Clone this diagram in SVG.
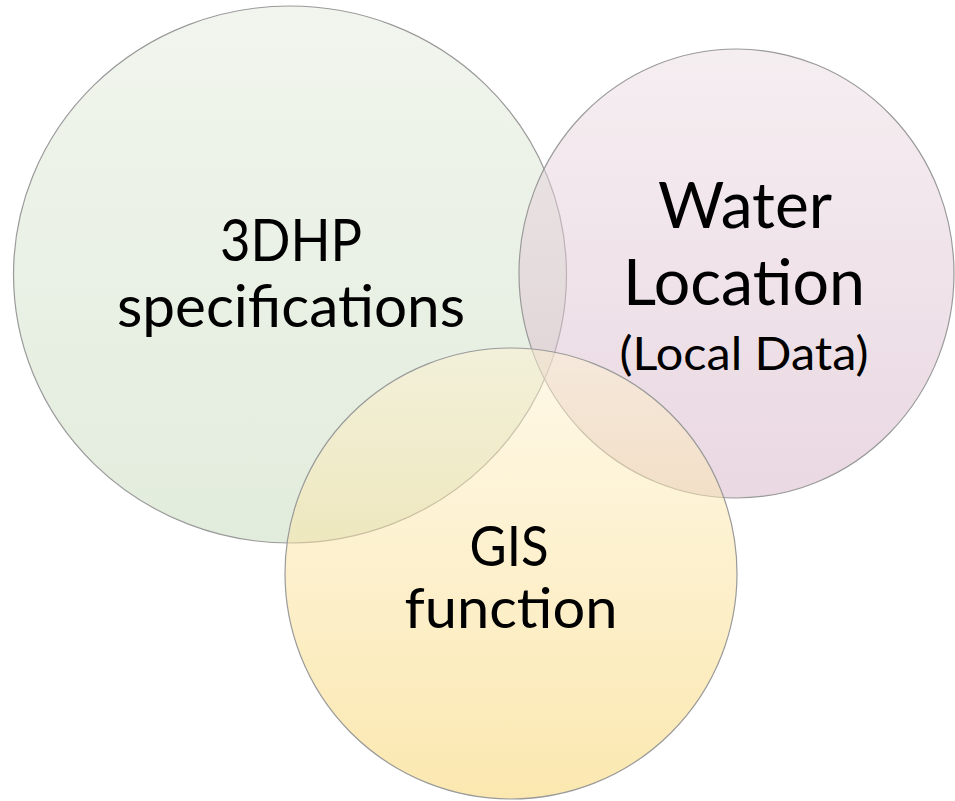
<svg xmlns="http://www.w3.org/2000/svg" width="955" height="801" viewBox="0 0 955 801">
  <style>
    .circ { stroke: #9a9a9a; stroke-width: 1.2; }
    .lbl { font-family: Lato, "Open Sans", "Liberation Sans", sans-serif; fill: #000000; text-anchor: middle; }
  </style>
  <defs>
    <linearGradient id="gGreen" x1="0" y1="0" x2="0" y2="1">
      <stop offset="0" stop-color="#e3ebdd" stop-opacity="0.5"/>
      <stop offset="1" stop-color="#c5d9b9" stop-opacity="0.5"/>
    </linearGradient>
    <linearGradient id="gPink" x1="0" y1="0" x2="0" y2="1">
      <stop offset="0" stop-color="#ebdde3" stop-opacity="0.5"/>
      <stop offset="1" stop-color="#d5b1c5" stop-opacity="0.5"/>
    </linearGradient>
    <linearGradient id="gYellow" x1="0" y1="0" x2="0" y2="1">
      <stop offset="0" stop-color="#fdf1d1" stop-opacity="0.5"/>
      <stop offset="1" stop-color="#f7d161" stop-opacity="0.5"/>
    </linearGradient>
  </defs>
  <rect x="0" y="0" width="955" height="801" fill="#ffffff"/>
  <g id="node-3dhp">
    <ellipse class="circ" cx="290" cy="274.5" rx="276.5" ry="268.5" fill="url(#gGreen)"/>
  </g>
  <g id="node-water">
    <ellipse class="circ" cx="736.5" cy="273.5" rx="217.5" ry="224.5" fill="url(#gPink)"/>
  </g>
  <g id="node-gis">
    <ellipse class="circ" cx="511" cy="573.5" rx="226" ry="225.5" fill="url(#gYellow)"/>
  </g>
  <g id="connectors"></g>
  <g id="labels">
    <text class="lbl" x="291" y="261" font-size="58" textLength="142" lengthAdjust="spacingAndGlyphs">3DHP</text>
    <text class="lbl" x="291" y="327" font-size="58" textLength="348" lengthAdjust="spacingAndGlyphs">specifications</text>
    <text class="lbl" x="745" y="228" font-size="63" textLength="174" lengthAdjust="spacingAndGlyphs">Water</text>
    <text class="lbl" x="744" y="305" font-size="63" textLength="242" lengthAdjust="spacingAndGlyphs">Location</text>
    <text class="lbl" x="744" y="370" font-size="47" textLength="249" lengthAdjust="spacingAndGlyphs">(Local Data)</text>
    <text class="lbl" x="509" y="566" font-size="57" textLength="79" lengthAdjust="spacingAndGlyphs">GIS</text>
    <text class="lbl" x="511" y="628" font-size="57" textLength="213" lengthAdjust="spacingAndGlyphs">function</text>
  </g>
</svg>
